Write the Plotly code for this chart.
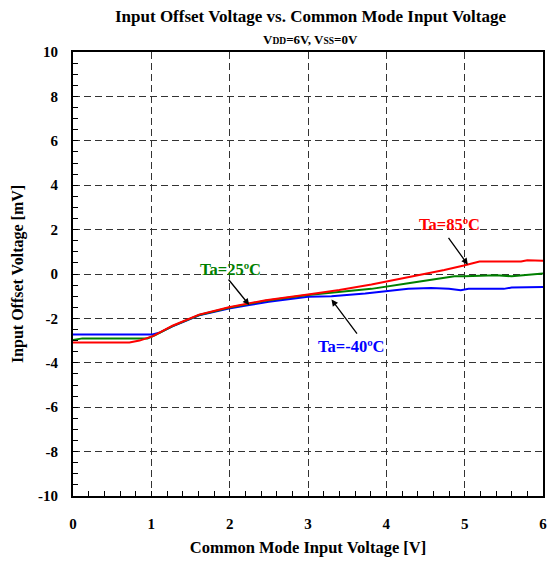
import plotly.graph_objects as go

# Input offset voltage vs. common mode input voltage, three ambient temperatures
x_85 = [0, 0.72, 0.85, 1.02, 1.27, 1.61, 1.99, 2.25, 2.46, 3.0, 3.4, 3.81, 4.28, 4.74, 4.99, 5.19, 5.72, 5.8, 6.0]
y_85 = [-3.08, -3.08, -3.0, -2.8, -2.33, -1.83, -1.5, -1.33, -1.18, -0.92, -0.72, -0.47, -0.15, 0.18, 0.38, 0.56, 0.56, 0.62, 0.6]

x_25 = [0, 0.12, 0.95, 1.05, 1.27, 1.61, 1.99, 2.25, 2.46, 3.0, 3.4, 3.81, 4.28, 4.87, 5.0, 5.4, 5.6, 5.75, 6.0]
y_25 = [-2.97, -2.9, -2.9, -2.75, -2.35, -1.85, -1.52, -1.36, -1.2, -0.95, -0.82, -0.67, -0.42, -0.1, -0.1, -0.06, -0.1, -0.05, 0.02]

x_m40 = [0, 1.0, 1.1, 1.27, 1.61, 1.99, 2.25, 2.5, 3.0, 3.3, 3.73, 4.28, 4.57, 4.8, 4.95, 5.05, 5.5, 5.6, 6.0]
y_m40 = [-2.73, -2.73, -2.65, -2.36, -1.86, -1.55, -1.4, -1.25, -1.03, -1.0, -0.88, -0.67, -0.63, -0.67, -0.73, -0.67, -0.67, -0.61, -0.58]

x_ticks = [0, 1, 2, 3, 4, 5, 6]
y_ticks = [-10, -8, -6, -4, -2, 0, 2, 4, 6, 8, 10]

SERIF = "Liberation Serif"

fig = go.Figure()
for xs, ys, col in [(x_m40, y_m40, "#0000ff"), (x_25, y_25, "#008000"), (x_85, y_85, "#ff0000")]:
    fig.add_trace(go.Scatter(x=xs, y=ys, mode="lines", line=dict(color=col, width=2), showlegend=False))

# labels with pointer arrows: text position, arrow tail, arrow head
labels = [
    ("Ta=25ºC", "#008000", 2.01, 0.2, 1.97, -0.18, 2.25, -1.4),
    ("Ta=85ºC", "#ff0000", 4.80, 2.23, 4.78, 1.70, 5.04, 0.42),
    ("Ta=-40ºC", "#0000ff", 3.56, -3.26, 3.64, -2.75, 3.30, -1.15),
]
for txt, col, tx, ty, ax0, ay0, hx, hy in labels:
    fig.add_annotation(x=tx, y=ty, xref="x", yref="y", text=txt, showarrow=False,
                       font=dict(family=SERIF, size=16.5, color=col, weight="bold"))
    fig.add_annotation(x=hx, y=hy, ax=ax0, ay=ay0, xref="x", yref="y", axref="x", ayref="y",
                       text="", showarrow=True, arrowhead=2, arrowsize=1, arrowwidth=1.3,
                       arrowcolor="black", standoff=0, startstandoff=0)

fig.add_annotation(x=0.505, y=1.081, xref="paper", yref="paper",
                   text="Input Offset Voltage vs. Common Mode Input Voltage", showarrow=False,
                   font=dict(family=SERIF, size=17, color="black", weight="bold"), yanchor="middle")
fig.add_annotation(x=0.505, y=1.029, xref="paper", yref="paper",
                   text="V<span style='font-size:9.5px'>DD</span>=6V, V<span style='font-size:9.5px'>SS</span>=0V",
                   showarrow=False, font=dict(family=SERIF, size=13, color="black", weight="bold"),
                   yanchor="middle")

axis_common = dict(
    showline=True, linecolor="black", linewidth=2, mirror=True,
    showgrid=True, gridcolor="#333333", gridwidth=1, griddash="7px,4px",
    ticks="inside", ticklen=5, tickcolor="black", tickwidth=1,
    zeroline=False,
    tickfont=dict(family=SERIF, size=15, color="black", weight="bold"),
)

fig.update_xaxes(range=[0, 6], tickvals=x_ticks, ticktext=[str(v) for v in x_ticks],
                 minor=dict(ticks="inside", dtick=0.2, ticklen=5, tickcolor="black", showgrid=False),
                 ticklabelstandoff=13,
                 title=dict(text="Common Mode Input Voltage [V]", standoff=10,
                            font=dict(family=SERIF, size=16.5, color="black", weight="bold")),
                 **axis_common)
fig.update_yaxes(range=[-10, 10], tickvals=y_ticks, ticktext=[str(v) for v in y_ticks],
                 minor=dict(ticks="inside", dtick=0.5, ticklen=5, tickcolor="black", showgrid=False),
                 ticklabelstandoff=10,
                 title=dict(text="Input Offset Voltage [mV]", standoff=10,
                            font=dict(family=SERIF, size=16, color="black", weight="bold")),
                 **axis_common)

fig.update_layout(width=559, height=566, margin=dict(l=73, r=13, t=52, b=70),
                  plot_bgcolor="white", paper_bgcolor="white")

fig.write_html("out.html")
